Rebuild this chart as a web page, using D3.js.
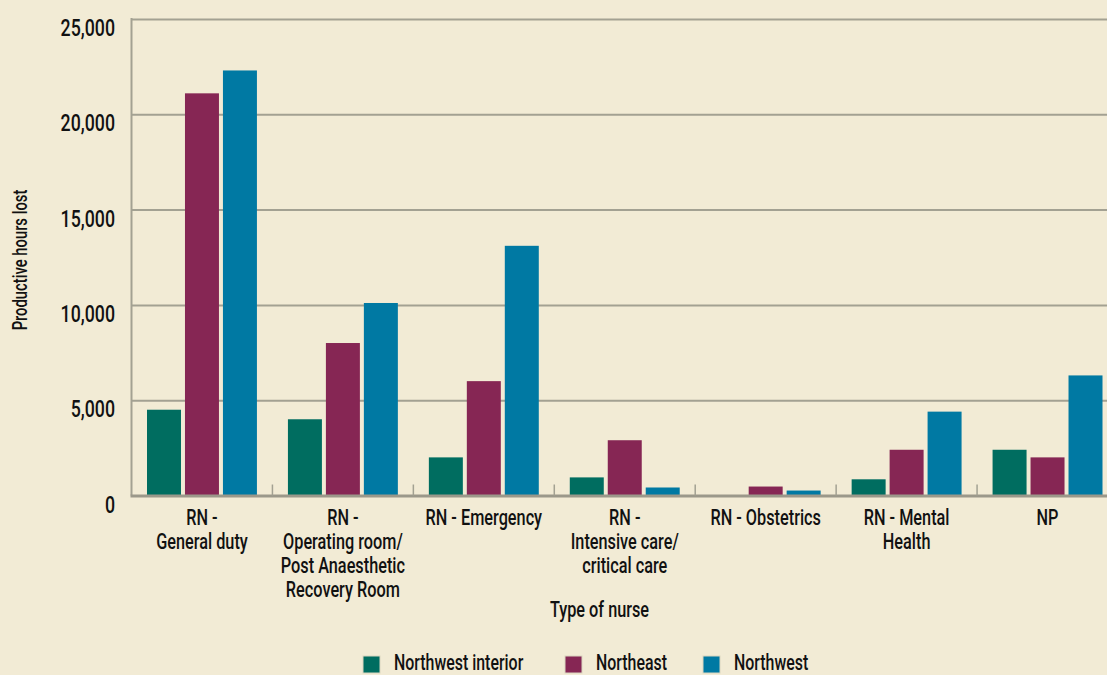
<!DOCTYPE html>
<html>
<head>
<meta charset="utf-8">
<script src="https://cdn.jsdelivr.net/npm/d3@7"></script>
<style>
  html, body { margin: 0; padding: 0; background: #f2ebd5; overflow: hidden; }
  svg { display: block; }
  text { font-family: Roboto, "DejaVu Sans", sans-serif; font-weight: 500; fill: #111; }
</style>
</head>
<body>
<div id="chart"></div>
<script>
// Chart data
const categories = [
  ["RN -", "General duty"],
  ["RN -", "Operating room/", "Post Anaesthetic", "Recovery Room"],
  ["RN - Emergency"],
  ["RN -", "Intensive care/", "critical care"],
  ["RN - Obstetrics"],
  ["RN - Mental", "Health"],
  ["NP"]
];
const seriesNames = ["Northwest interior", "Northeast", "Northwest"];
const northwestInterior = [4500, 4000, 2000, 950, 0, 850, 2400];
const northeast = [21100, 8000, 6000, 2900, 470, 2400, 2000];
const northwest = [22300, 10100, 13100, 420, 260, 4400, 6300];
const yTicks = [0, 5000, 10000, 15000, 20000, 25000];
const colors = ["#006d60", "#862654", "#0079a3"];

const width = 1107;
const height = 675;
const plot = { left: 131.5, right: 1118, top: 19, bottom: 495.5 };
const squeeze = 0.74; // the original uses a condensed face

const svg = d3.select('#chart')
  .append('svg')
  .attr('width', width)
  .attr('height', height);

const x0 = d3.scaleBand()
  .domain(d3.range(categories.length))
  .range([plot.left, plot.right])
  .padding(0);

const x1 = d3.scaleBand()
  .domain(d3.range(seriesNames.length))
  .range([15.5, x0.bandwidth() - 15.5])
  .paddingInner(0.105)
  .paddingOuter(0);

const y = d3.scaleLinear()
  .domain([0, 25000])
  .range([plot.bottom, plot.top]);

// gridlines
const grid = svg.append('g')
  .attr('transform', `translate(${plot.left},0)`)
  .call(d3.axisLeft(y).tickValues(yTicks.slice(1)).tickFormat('').tickSize(-(plot.right - plot.left)));
grid.select('.domain').remove();
grid.selectAll('line').attr('stroke', '#a3a192').attr('stroke-width', 2);

// y tick labels (top of digits sits on the gridline)
svg.append('g')
  .selectAll('text')
  .data(yTicks)
  .join('text')
  .attr('transform', d => `translate(${plot.left - 16.5},${y(d) + 17}) scale(${squeeze},1)`)
  .attr('text-anchor', 'end')
  .style('font-size', '24px')
  .text(d3.format(','));

// left axis line
svg.append('line')
  .attr('x1', plot.left).attr('x2', plot.left)
  .attr('y1', y(25000) - 1).attr('y2', plot.bottom)
  .attr('stroke', '#a3a192').attr('stroke-width', 2);

// bars
const series = [northwestInterior, northeast, northwest];
const groups = svg.append('g')
  .selectAll('g')
  .data(categories)
  .join('g')
  .attr('transform', (d, i) => `translate(${x0(i)},0)`);

groups.selectAll('rect')
  .data((d, i) => series.map((s, k) => ({ k, v: s[i] })))
  .join('rect')
  .attr('x', d => x1(d.k))
  .attr('width', x1.bandwidth())
  .attr('y', d => y(d.v))
  .attr('height', d => y(0) - y(d.v))
  .attr('fill', d => colors[d.k]);

// baseline
svg.append('line')
  .attr('x1', plot.left - 1).attr('x2', plot.right)
  .attr('y1', plot.bottom + 0.5).attr('y2', plot.bottom + 0.5)
  .attr('stroke', '#9b988a').attr('stroke-width', 3);

// separator ticks
svg.append('g')
  .selectAll('line')
  .data(d3.range(1, categories.length))
  .join('line')
  .attr('x1', d => x0(d)).attr('x2', d => x0(d))
  .attr('y1', plot.bottom - 11).attr('y2', plot.bottom)
  .attr('stroke', '#a3a192').attr('stroke-width', 1.5);

// category labels
const labels = svg.append('g')
  .selectAll('text')
  .data(categories)
  .join('text')
  .attr('transform', (d, i) => `translate(${x0(i) + x0.bandwidth() / 2},525) scale(${squeeze},1)`)
  .attr('text-anchor', 'middle')
  .style('font-size', '22px');

labels.selectAll('tspan')
  .data(d => d)
  .join('tspan')
  .attr('x', 0)
  .attr('dy', (d, i) => i === 0 ? 0 : 24)
  .text(d => d);

// axis titles
svg.append('text')
  .attr('transform', `translate(599.5,617) scale(${squeeze},1)`)
  .attr('text-anchor', 'middle')
  .style('font-size', '22px')
  .text('Type of nurse');

svg.append('text')
  .attr('transform', `translate(27,260) rotate(-90) scale(${squeeze},1)`)
  .attr('text-anchor', 'middle')
  .style('font-size', '20px')
  .text('Productive hours lost');

// legend
const legendX = [363, 565, 703];
const legend = svg.append('g')
  .selectAll('g')
  .data(seriesNames)
  .join('g')
  .attr('transform', (d, i) => `translate(${legendX[i]},656)`);

legend.append('rect')
  .attr('width', 17).attr('height', 17)
  .attr('fill', (d, i) => colors[i])
  .attr('stroke', '#d9d6c0').attr('stroke-width', 1);

legend.append('text')
  .attr('transform', `translate(31,14) scale(${squeeze},1)`)
  .style('font-size', '21.5px')
  .text(d => d);
</script>
</body>
</html>
